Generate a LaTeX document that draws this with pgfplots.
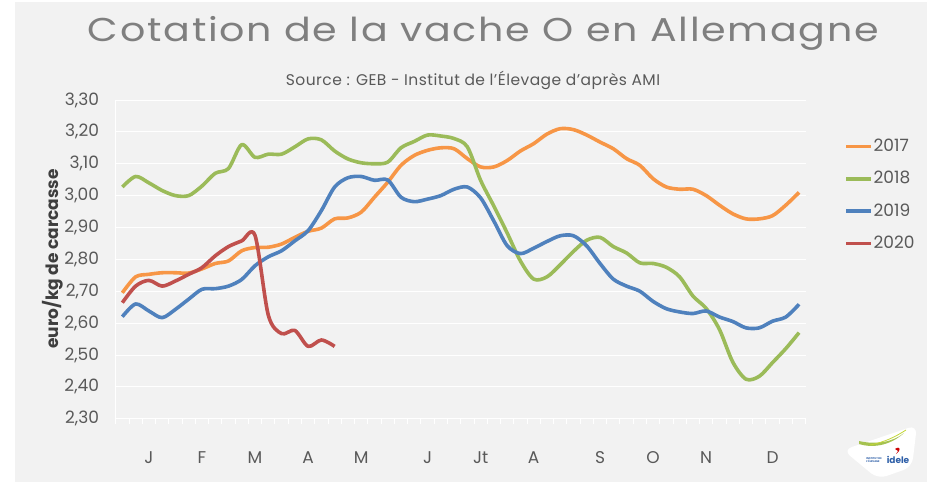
\documentclass[border=0pt]{standalone}
\usepackage{fontspec}
\setmainfont{Poppins}
\usepackage{pgfplots}
\usepackage{pgfplotstable}
\pgfplotsset{compat=1.18}
\definecolor{bg}{HTML}{F2F2F2}
\definecolor{c17}{HTML}{F79646}
\definecolor{c18}{HTML}{9BBB59}
\definecolor{c19}{HTML}{4F81BD}
\definecolor{c20}{HTML}{C0504D}
\definecolor{txt}{HTML}{595959}
\definecolor{ttl}{HTML}{7F7F7F}
\definecolor{idblue}{HTML}{2E5FA8}

% weeks 1..52 : 2017, 2018, 2019
\pgfplotstableread{
w  a b c
1  2.695 3.027 2.620
2  2.745 3.060 2.660
3  2.753 3.040 2.638
4  2.758 3.016 2.617
5  2.758 3.000 2.643
6  2.757 3.000 2.675
7  2.770 3.030 2.706
8  2.787 3.070 2.708
9  2.795 3.085 2.716
10 2.827 3.160 2.737
11 2.837 3.120 2.780
12 2.838 3.130 2.808
13 2.848 3.130 2.827
14 2.869 3.153 2.858
15 2.888 3.178 2.890
16 2.898 3.175 2.953
17 2.927 3.140 3.027
18 2.930 3.115 3.056
19 2.948 3.103 3.060
20 2.995 3.100 3.048
21 3.042 3.105 3.049
22 3.095 3.150 2.995
23 3.126 3.170 2.981
24 3.142 3.190 2.989
25 3.150 3.187 3.000
26 3.147 3.179 3.020
27 3.116 3.153 3.027
28 3.090 3.048 2.993
29 3.090 2.967 2.920
30 3.110 2.883 2.843
31 3.140 2.795 2.818
32 3.163 2.738 2.835
33 3.193 2.745 2.856
34 3.210 2.783 2.874
35 3.207 2.825 2.874
36 3.190 2.860 2.842
37 3.168 2.869 2.787
38 3.147 2.840 2.738
39 3.116 2.820 2.716
40 3.095 2.789 2.700
41 3.053 2.787 2.668
42 3.027 2.775 2.645
43 3.020 2.745 2.635
44 3.020 2.685 2.630
45 3.000 2.646 2.638
46 2.970 2.580 2.619
47 2.943 2.478 2.605
48 2.927 2.424 2.585
49 2.927 2.433 2.585
50 2.937 2.476 2.606
51 2.970 2.520 2.619
52 3.010 2.570 2.659
}\dataA

% 2020
\pgfplotstableread{
w  d
1  2.664
2  2.716
3  2.734
4  2.716
5  2.732
6  2.753
7  2.774
8  2.811
9  2.840
10 2.858
11 2.875
12 2.625
13 2.567
14 2.577
15 2.527
16 2.547
17 2.527
}\dataB

\begin{document}
\begin{tikzpicture}
\useasboundingbox (0,0) rectangle (927bp,482bp);
\fill[white] (0,0) rectangle (927bp,482bp);
\fill[bg] (15bp,0) rectangle (927bp,480bp);

\node[anchor=base, text=ttl, font=\fontsize{33bp}{38bp}\selectfont\addfontfeature{FakeStretch=1.2,LetterSpace=5.3}, inner sep=0pt]
  at (483.5bp,440.3bp) {Cotation de la vache O en Allemagne};
\node[anchor=base, text=txt, font=\fontsize{15.5bp}{18bp}\selectfont\addfontfeature{LetterSpace=3}, inner sep=0pt]
  at (473bp,396bp) {Source : GEB - Institut de l'Élevage d'après AMI};
\node[rotate=90, text=txt!70!black, font=\fontsize{17bp}{20bp}\selectfont\bfseries, inner sep=0pt]
  at (53bp,223bp) {euro/kg de carcasse};

% logo
\fill[white, rounded corners=9bp] (843bp,32bp) -- (917bp,57bp) -- (912bp,15bp) -- (878bp,3bp) -- cycle;
\fill[c18!90!yellow] (859bp,38bp) .. controls (875bp,33bp) and (892bp,38bp) .. (904bp,49bp)
   .. controls (893bp,40bp) and (876bp,37bp) .. (859bp,41bp) -- cycle;
\draw[c18!60!yellow, line width=0.8bp] (870bp,37bp) .. controls (885bp,40bp) and (895bp,45bp) .. (906bp,52bp);
\fill[red!80!black] (895bp,33bp) .. controls (901bp,37bp) and (901bp,31bp) .. (896bp,28bp) -- (898bp,31bp) -- cycle;
\node[text=idblue, font=\fontsize{9bp}{10bp}\selectfont\bfseries, inner sep=0pt] at (898bp,22bp) {idele};
\node[text=idblue, font=\fontsize{2.6bp}{3bp}\selectfont\bfseries, inner sep=0pt, align=left] at (874bp,22bp) {INSTITUT DE\\L'ÉLEVAGE};

\begin{axis}[
  at={(115.7bp,63.3bp)}, anchor=south west,
  scale only axis, width=690bp, height=318.7bp,
  xmin=0.5, xmax=52.5, ymin=2.3, ymax=3.3,
  axis x line*=bottom, axis y line*=left,
  axis line style={white, line width=0.9bp},
  ymajorgrids, grid style={white, line width=0.9bp},
  ytick={2.3,2.4,...,3.31},
  yticklabel style={text=txt, font=\fontsize{17bp}{20bp}\selectfont, anchor=east, inner sep=0pt, xshift=-11bp},
  ytick style={draw=none},
  /pgf/number format/.cd, fixed, fixed zerofill, precision=2, use comma, assume math mode=true,
  /pgfplots/.cd,
  xtick={0.5,1.5,...,52.6},
  xticklabels={},
  xtick style={white, line width=0.9bp},
  tick align=outside, major tick length=5.5bp,
  extra x ticks={3,7,11,15,19,24,28,32,37,41,45,50},
  extra x tick labels={J,F,M,A,M,J,Jt,A,S,O,N,D},
  extra x tick style={major tick length=0pt, xticklabel style={text=txt, font=\fontsize{17bp}{20bp}\selectfont, anchor=center, inner sep=0pt, yshift=-39bp}},
  legend style={at={(1.056,0.882)}, anchor=north west, draw=none, fill=none,
     font=\fontsize{17bp}{20bp}\selectfont, text=txt, row sep=15.4bp, inner sep=0pt,
     nodes={inner sep=0.5bp, text height=13bp, text depth=3bp}},
  legend cell align=left,
  legend image code/.code={\draw[#1, line width=3.6bp] (0bp,0bp) -- (25bp,0bp);},
  every axis plot/.append style={line width=3.6bp, smooth, tension=0.5, line join=round},
]
\addplot[c17] table[x=w, y=a] {\dataA};
\addlegendentry{2017}
\addplot[c18] table[x=w, y=b] {\dataA};
\addlegendentry{2018}
\addplot[c19] table[x=w, y=c] {\dataA};
\addlegendentry{2019}
\addplot[c20] table[x=w, y=d] {\dataB};
\addlegendentry{2020}
\end{axis}
\end{tikzpicture}
\end{document}
